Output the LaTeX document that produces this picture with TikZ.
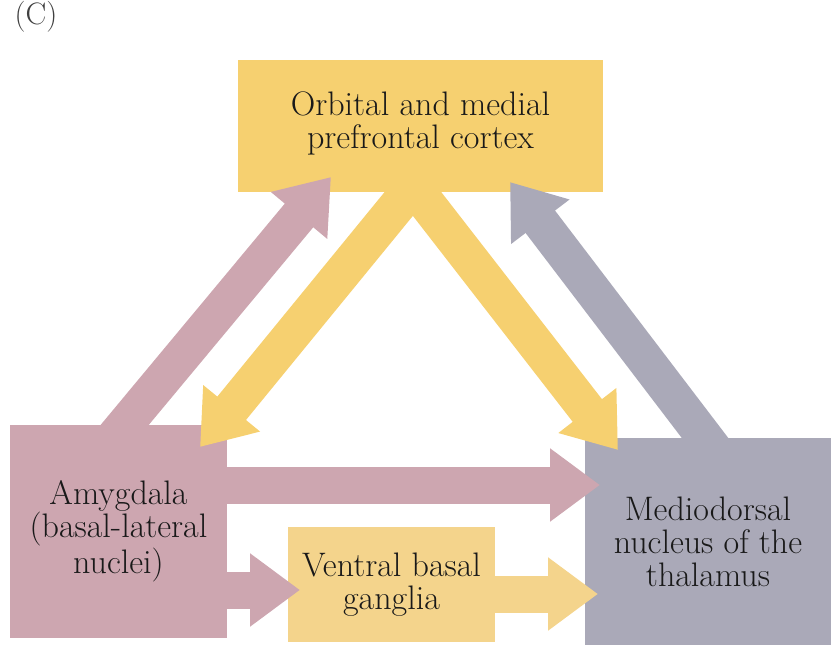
\documentclass[tikz,border=0pt]{standalone}
\usetikzlibrary{arrows.meta}
\definecolor{cortexyellow}{RGB}{246,208,112}
\definecolor{gangliayellow}{RGB}{244,212,140}
\definecolor{amygpink}{RGB}{205,166,176}
\definecolor{thalgrey}{RGB}{170,169,184}

\begin{document}
\begin{tikzpicture}[x=0.5pt, y=-0.5pt,
    region/.style={rectangle, inner sep=0pt, align=center, text=black!90,
            font=\fontsize{17}{16.5}\selectfont},
    fat/.style={line width=18.5pt, -{Triangle[length=25pt, width=35pt]}}]
    \useasboundingbox (0,0) rectangle (831,648);

    % Panel letter in the top left corner.
    \node[anchor=base, text=black!75, font=\fontsize{15.5}{16.5}\selectfont] (panel) at (36,25) {(C)};

    % The four regions.
    \node[region, fill=cortexyellow, minimum width=182.5pt, minimum height=66pt, text depth=6pt]
    (ofc) at (420.5,126) {Orbital and medial\\prefrontal cortex};
    \node[region, fill=amygpink, minimum width=108.5pt, minimum height=106.5pt]
    (amy) at (118.5,531.5) {Amygdala\\(basal-lateral\\nuclei)};
    \node[region, fill=gangliayellow, minimum width=103.5pt, minimum height=57.5pt]
    (vbg) at (391.5,584.5) {Ventral basal\\ganglia};
    \node[region, fill=thalgrey, minimum width=123pt, minimum height=103.5pt]
    (md) at (708,541.5) {Mediodorsal\\nucleus of the\\thalamus};

    % Arrow ends: feet inside the source box, tips just over the target box.
    \coordinate (amyfoot) at (108,445);
    \coordinate (amytip) at (331,177);
    \coordinate (ofcfootl) at (426.5,170);
    \coordinate (ofctipl) at (200,447);
    \coordinate (ofcfootr) at (400.7,170);
    \coordinate (ofctipr) at (618,450);
    \coordinate (mdfoot) at (718,455);
    \coordinate (mdtip) at (510,182);

    % Diagonal projections.
    \draw[fat, amygpink] (amyfoot) -- (amytip);
    \draw[fat, cortexyellow] (ofcfootl) -- (ofctipl);
    \draw[fat, cortexyellow] (ofcfootr) -- (ofctipr);
    \draw[fat, thalgrey] (mdfoot) -- (mdtip);

    % Horizontal projections.
    \draw[fat, amygpink] (222,485) coordinate (amyright) -- (600,485) coordinate (mdleft);
    \draw[fat, amygpink] (222,590) coordinate (amylow) -- (300,590) coordinate (vbgleft);
    \draw[fat, gangliayellow] (490,594) coordinate (vbgright) -- (598,594) coordinate (mdlow);
\end{tikzpicture}
\end{document}
